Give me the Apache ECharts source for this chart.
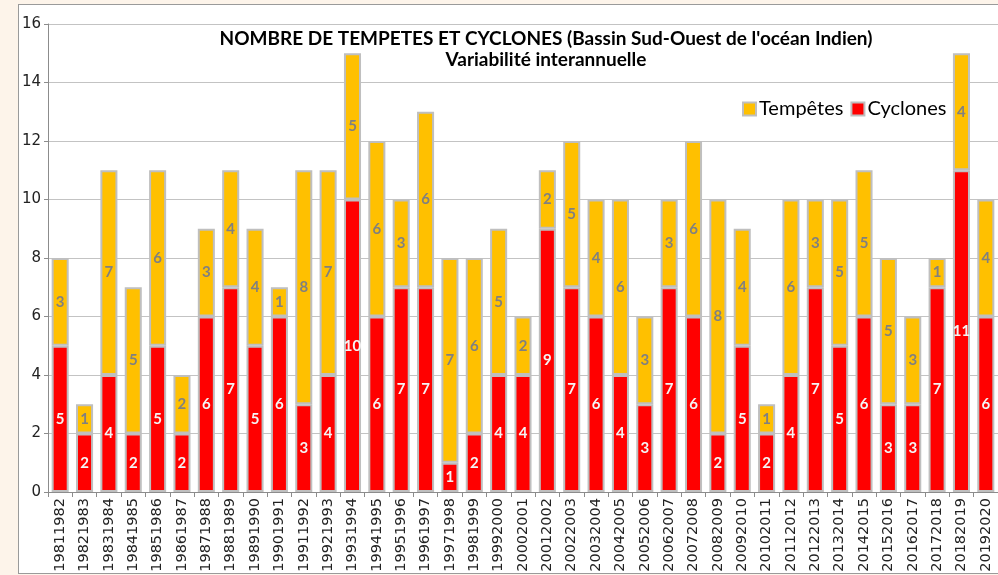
<!DOCTYPE html>
<html>
<head>
<meta charset="utf-8">
<script src="https://cdn.jsdelivr.net/npm/echarts@6/dist/echarts.min.js"></script>
<style>
  html, body { margin: 0; padding: 0; background: #fdf4ea; overflow: hidden; }
  .frame {
    position: absolute; left: 18px; top: 4px; width: 990px; height: 568px;
    background: #ffffff; border: 1px solid #9a9a9a;
  }
  #chart { position: absolute; left: 0; top: 0; width: 998px; height: 575px; }
</style>
</head>
<body>
<div class="frame"></div>
<div id="chart"></div>
<script>
// saisons
const saisons = [
  '19811982', '19821983', '19831984', '19841985', '19851986', '19861987', '19871988',
  '19881989', '19891990', '19901991', '19911992', '19921993', '19931994', '19941995',
  '19951996', '19961997', '19971998', '19981999', '19992000', '20002001', '20012002',
  '20022003', '20032004', '20042005', '20052006', '20062007', '20072008', '20082009',
  '20092010', '20102011', '20112012', '20122013', '20132014', '20142015', '20152016',
  '20162017', '20172018', '20182019', '20192020'
];
// cyclones (rouge, en bas de la pile)
const cyclones = [5, 2, 4, 2, 5, 2, 6, 7, 5, 6, 3, 4, 10, 6, 7, 7, 1, 2, 4, 4,
  9, 7, 6, 4, 3, 7, 6, 2, 5, 2, 4, 7, 5, 6, 3, 3, 7, 11, 6];
// tempêtes (jaune, au-dessus)
const tempetes = [3, 1, 7, 5, 6, 2, 3, 4, 4, 1, 8, 7, 5, 6, 3, 6, 7, 6, 5, 2,
  2, 5, 4, 6, 3, 3, 6, 8, 4, 1, 6, 3, 5, 5, 5, 3, 1, 4, 4];
const yTicks = [0, 2, 4, 6, 8, 10, 12, 14, 16];

const myChart = echarts.init(document.getElementById('chart'));
myChart.setOption({
  backgroundColor: 'transparent',
  animation: false,
  title: {
    text: "NOMBRE DE TEMPETES ET CYCLONES (Bassin Sud-Ouest de l'océan Indien)\nVariabilité interannuelle",
    left: 541,
    top: 23,
    textAlign: 'center',
    textStyle: {
      fontFamily: 'Lato',
      fontWeight: 'bold',
      fontSize: 19,
      lineHeight: 21,
      color: '#000'
    }
  },
  legend: {
    data: ['Tempêtes', 'Cyclones'],
    left: 737,
    top: 94,
    itemWidth: 13,
    itemHeight: 13,
    itemGap: 7,
    icon: 'rect',
    textStyle: { fontFamily: 'Lato', fontSize: 20, color: '#000', padding: [0, 0, 0, -2] }
  },
  grid: { left: 48, top: 24, right: -1, bottom: 83, containLabel: false },
  xAxis: {
    type: 'category',
    data: saisons,
    axisLine: { lineStyle: { color: '#8c8c8c', width: 1 } },
    axisTick: { show: true, length: 5, lineStyle: { color: '#8c8c8c' } },
    axisLabel: {
      rotate: 90,
      interval: 0,
      margin: 6,
      fontFamily: 'DejaVu Sans',
      fontSize: 14.5,
      color: '#222'
    }
  },
  yAxis: {
    type: 'value',
    min: yTicks[0],
    max: yTicks[yTicks.length - 1],
    interval: 2,
    axisLine: { show: true, lineStyle: { color: '#8c8c8c' } },
    axisTick: { show: true, length: 4, lineStyle: { color: '#8c8c8c' } },
    axisLabel: { fontFamily: 'DejaVu Sans', fontSize: 15, color: '#222', margin: 7 },
    splitLine: { lineStyle: { color: '#c3c3c3', width: 1 } }
  },
  series: [
    {
      name: 'Cyclones',
      type: 'bar',
      stack: 'total',
      data: cyclones,
      barCategoryGap: '30%',
      itemStyle: { color: '#ff0000', borderColor: '#bfbfbf', borderWidth: 2 },
      label: {
        show: true,
        position: 'inside',
        color: '#f4f4f4',
        fontFamily: 'Lato',
        fontWeight: 'bold',
        fontSize: 15
      }
    },
    {
      name: 'Tempêtes',
      type: 'bar',
      stack: 'total',
      data: tempetes,
      barCategoryGap: '30%',
      itemStyle: { color: '#ffc000', borderColor: '#bfbfbf', borderWidth: 2 },
      label: {
        show: true,
        position: 'inside',
        color: '#808080',
        fontFamily: 'Lato',
        fontWeight: 'bold',
        fontSize: 15
      }
    }
  ]
});
</script>
</body>
</html>
